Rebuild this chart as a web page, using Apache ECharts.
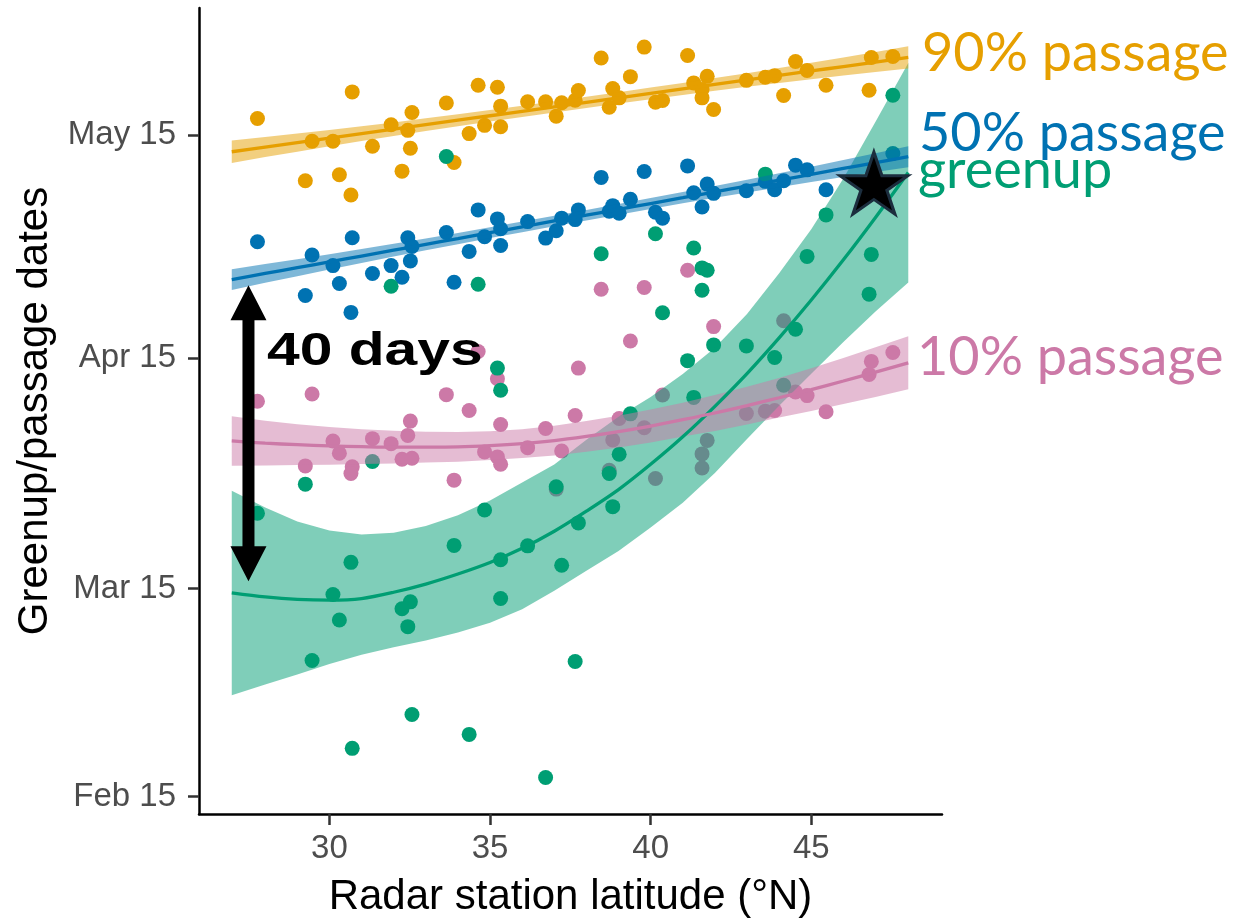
<!DOCTYPE html>
<html>
<head>
<meta charset="utf-8">
<script src="https://cdn.jsdelivr.net/npm/echarts/dist/echarts.min.js"></script>
<style>
  html, body { margin: 0; padding: 0; background: #fff; }
  #chart { width: 1233px; height: 923px; }
</style>
</head>
<body>
<div id="chart"></div>
<script>
// colours (Okabe-Ito)
const ORANGE = "#E69F00";
const BLUE = "#0072B2";
const GREEN = "#009E73";
const PINK = "#CC79A7";

// axis ticks
const xTicks = [30, 35, 40, 45];
const yTickDays = [46, 74, 105, 135];
const yTickLabels = ["Feb 15", "Mar 15", "Apr 15", "May 15"];

// station points: [latitude, day of year]
const pts90 = [
  [27.76, 137.21], [30.71, 140.78], [33.64, 139.28], [32.57, 138.01], [31.92, 136.37],
  [32.44, 135.61], [29.46, 134.14], [30.11, 134.14], [31.34, 133.47], [32.52, 133.2],
  [33.88, 131.29], [29.25, 128.83], [30.31, 129.63], [32.26, 130.12], [30.67, 126.91],
  [34.63, 141.67], [35.23, 141.4], [35.33, 138.86], [34.35, 135.17], [34.83, 136.28],
  [35.33, 136.1], [36.17, 139.45], [36.73, 139.45], [37.06, 137.52], [37.23, 139.31],
  [37.65, 139.66], [37.75, 140.96], [38.46, 145.33], [38.71, 138.72], [38.82, 141.22],
  [39.02, 139.98], [39.37, 142.83], [39.8, 146.8], [40.15, 139.39], [40.37, 139.62],
  [41.15, 145.68], [41.34, 141.99], [41.76, 142.87], [41.6, 141.09], [41.6, 139.98],
  [41.96, 138.42], [42.98, 142.33], [43.57, 142.74], [43.86, 142.96], [44.14, 140.29],
  [44.51, 144.87], [44.87, 143.67], [45.46, 141.67], [46.8, 141.0], [46.87, 145.41],
  [47.54, 145.54]
];
const pts50 = [
  [27.76, 120.63], [30.71, 121.16], [33.64, 121.87], [32.44, 121.16], [32.57, 120.0],
  [29.46, 118.85], [30.11, 117.42], [31.92, 117.42], [32.52, 118.05], [31.34, 116.35],
  [32.26, 115.85], [30.31, 115.01], [29.25, 113.41], [30.67, 111.13], [33.88, 115.18],
  [34.35, 119.33], [34.63, 124.91], [34.83, 121.3], [35.23, 123.7], [35.33, 122.37],
  [35.33, 120.13], [36.17, 123.34], [36.73, 121.12], [37.06, 122.1], [37.23, 123.8],
  [37.65, 123.61], [37.75, 124.91], [38.46, 129.28], [38.71, 124.73], [38.82, 125.48],
  [39.02, 124.47], [39.37, 126.34], [39.8, 130.08], [40.15, 124.6], [40.37, 123.8],
  [41.15, 130.83], [41.34, 127.22], [41.76, 128.38], [41.96, 127.14], [41.6, 125.31],
  [42.98, 127.49], [43.57, 128.75], [43.86, 127.62], [44.14, 128.83], [44.51, 130.93],
  [44.87, 130.3], [45.46, 127.62], [47.54, 132.49]
];
const pts10 = [
  [27.76, 99.19], [29.46, 100.16], [33.64, 100.07], [32.52, 96.51], [32.44, 94.59],
  [30.11, 93.84], [31.34, 94.15], [31.92, 93.48], [30.31, 92.18], [32.26, 91.38],
  [32.57, 91.51], [29.25, 90.49], [30.71, 90.36], [30.67, 89.47], [33.88, 88.57],
  [34.35, 97.93], [34.63, 105.88], [35.23, 102.21], [35.33, 96.06], [36.73, 95.52],
  [37.65, 97.26], [37.75, 103.64], [39.02, 96.86], [34.83, 92.37], [35.23, 91.7],
  [35.33, 90.71], [36.17, 92.94], [37.23, 92.5], [38.46, 114.25], [39.8, 114.48],
  [39.37, 107.29], [41.15, 116.79], [41.96, 109.22], [47.54, 105.74], [46.87, 104.54],
  [46.8, 102.77], [44.51, 100.43], [44.87, 99.94], [45.46, 97.76], [44.14, 110.0],
  [38.82, 93.97], [39.8, 95.62], [40.37, 100.03], [40.15, 88.8], [41.76, 93.92],
  [41.6, 92.1], [41.6, 90.2], [38.71, 89.91], [42.98, 97.53], [43.57, 97.85],
  [43.86, 97.93], [37.06, 87.37]
];
const ptsGreen = [
  [33.64, 132.09], [31.92, 114.65], [34.63, 114.92], [38.46, 119.02], [40.15, 121.7],
  [40.37, 111.09], [41.34, 119.78], [41.6, 117.11], [41.76, 116.79], [41.6, 114.11],
  [41.15, 104.64], [35.23, 103.64], [35.33, 100.66], [39.37, 97.49], [43.57, 129.72],
  [47.54, 140.33], [45.46, 124.24], [44.87, 118.66], [46.87, 118.93], [46.8, 113.58],
  [44.51, 108.86], [41.96, 106.76], [42.98, 106.62], [43.86, 105.07], [44.14, 101.33],
  [41.34, 99.7], [31.34, 91.07], [29.25, 88.03], [27.76, 84.12], [30.67, 77.52],
  [33.88, 79.8], [30.11, 73.19], [32.52, 72.21], [32.26, 71.28], [30.31, 69.76],
  [32.44, 68.87], [29.46, 64.32], [32.57, 57.06], [30.71, 52.51], [39.02, 92.05],
  [38.71, 89.47], [38.82, 85.01], [37.75, 82.82], [34.83, 84.56], [36.17, 79.74],
  [35.33, 77.87], [37.23, 77.12], [37.06, 87.69], [35.33, 72.65], [37.65, 64.19],
  [34.35, 54.38], [36.73, 48.58]
];

// fitted curves and 95% bands, read at these latitudes
const fitLat = [26.96, 28, 29, 30, 31, 32, 33, 34, 35, 36, 37, 38, 39, 40, 41, 42, 43, 44, 45, 46, 47, 48.02];

const fit90 = [132.73, 133.36, 133.96, 134.56, 135.16, 135.76, 136.37, 136.97, 137.57, 138.17, 138.77, 139.38, 139.98, 140.58, 141.18, 141.78, 142.38, 142.99, 143.59, 144.19, 144.79, 145.41];
const lo90 = [131.23, 132.01, 132.74, 133.46, 134.16, 134.84, 135.51, 136.16, 136.79, 137.41, 138.02, 138.63, 139.22, 139.8, 140.37, 140.92, 141.46, 141.99, 142.49, 142.97, 143.44, 143.91];
const hi90 = [134.23, 134.71, 135.18, 135.66, 136.16, 136.68, 137.23, 137.78, 138.35, 138.93, 139.52, 140.13, 140.74, 141.36, 141.99, 142.64, 143.3, 143.99, 144.69, 145.41, 146.14, 146.91];

const fit50 = [115.54, 116.36, 117.14, 117.92, 118.71, 119.49, 120.28, 121.06, 121.85, 122.63, 123.42, 124.2, 124.98, 125.77, 126.55, 127.34, 128.12, 128.91, 129.69, 130.48, 131.26, 132.06];
const lo50 = [114.14, 115.1, 116.0, 116.89, 117.77, 118.63, 119.48, 120.3, 121.12, 121.92, 122.72, 123.5, 124.27, 125.04, 125.79, 126.54, 127.26, 127.97, 128.66, 129.34, 130.0, 130.66];
const hi50 = [116.94, 117.62, 118.28, 118.95, 119.65, 120.35, 121.08, 121.82, 122.58, 123.34, 124.12, 124.9, 125.69, 126.5, 127.31, 128.14, 128.98, 129.85, 130.72, 131.62, 132.52, 133.46];

const fit10 = [93.84, 93.54, 93.34, 93.17, 93.08, 93.01, 93.01, 93.04, 93.21, 93.48, 93.88, 94.45, 95.1, 95.85, 96.7, 97.6, 98.6, 99.65, 100.75, 101.9, 103.1, 104.35];
const lo10 = [90.5, 90.53, 90.6, 90.63, 90.74, 90.8, 90.94, 91.03, 91.27, 91.54, 91.87, 92.38, 92.96, 93.64, 94.43, 95.19, 96.06, 96.98, 97.87, 98.82, 99.76, 100.78];
const hi10 = [97.18, 96.55, 96.08, 95.71, 95.42, 95.22, 95.08, 95.05, 95.15, 95.42, 95.89, 96.52, 97.24, 98.06, 98.97, 100.01, 101.14, 102.32, 103.63, 104.98, 106.44, 107.92];

const fitGreen = [73.42, 72.88, 72.55, 72.44, 72.65, 73.5, 74.6, 75.95, 77.5, 79.4, 81.7, 84.4, 87.3, 90.7, 94.4, 98.5, 102.9, 107.7, 112.8, 118.2, 123.9, 129.95];
const loGreen = [59.64, 61.11, 62.45, 63.85, 65.1, 66.1, 67.0, 68.1, 69.4, 71.2, 73.7, 76.4, 79.05, 82.19, 85.53, 89.53, 94.09, 98.56, 102.87, 107.15, 111.24, 115.14];
const hiGreen = [87.15, 84.9, 83.0, 81.8, 81.25, 81.5, 82.4, 83.85, 85.85, 88.26, 90.67, 94.01, 97.09, 99.76, 102.84, 106.38, 110.9, 116.4, 122.3, 129.12, 136.75, 144.66];

// annotations
const starPoint = [46.95, 128.52];
const arrowLat = 27.48;
const arrowFrom = 74.98; // day
const arrowTo = 114.78;  // day

const FONT = "'Liberation Sans', Arial, sans-serif";

function scatter(name, data, color) {
  return {
    name: name,
    type: "scatter",
    data: data,
    symbolSize: 15,
    itemStyle: { color: color, opacity: 1 },
    z: 2,
    silent: true,
  };
}

function band(name, lo, hi, color) {
  return {
    name: name,
    type: "custom",
    data: [[fitLat[0], lo[0]]],
    encode: { x: 0, y: 1 },
    z: 3,
    silent: true,
    renderItem: function (params, api) {
      const points = [];
      for (let i = 0; i < fitLat.length; i++) points.push(api.coord([fitLat[i], hi[i]]));
      for (let i = fitLat.length - 1; i >= 0; i--) points.push(api.coord([fitLat[i], lo[i]]));
      return {
        type: "polygon",
        shape: { points: points },
        style: { fill: color, opacity: 0.5 },
      };
    },
  };
}

function fitLine(name, fit, color) {
  return {
    name: name,
    type: "line",
    data: fitLat.map((x, i) => [x, fit[i]]),
    showSymbol: false,
    smooth: 0.3,
    lineStyle: { color: color, width: 3.3 },
    z: 4,
    silent: true,
  };
}

const arrowSeries = {
  name: "arrow",
  type: "custom",
  data: [[arrowLat, arrowFrom, arrowTo]],
  encode: { x: 0, y: 1 },
  z: 6,
  silent: true,
  renderItem: function (params, api) {
    const top = api.coord([api.value(0), api.value(2)]);
    const bot = api.coord([api.value(0), api.value(1)]);
    const x = top[0];
    const hw = 18, hl = 35, sw = 6;
    return {
      type: "polygon",
      shape: {
        points: [
          [x, top[1]], [x + hw, top[1] + hl], [x + sw, top[1] + hl],
          [x + sw, bot[1] - hl], [x + hw, bot[1] - hl], [x, bot[1]],
          [x - hw, bot[1] - hl], [x - sw, bot[1] - hl], [x - sw, top[1] + hl],
          [x - hw, top[1] + hl],
        ],
      },
      style: { fill: "#000" },
    };
  },
};

const starPath = "path://M50,0L61.23,34.55L97.55,34.55L68.17,55.9L79.39,90.45L50,69.1L20.61,90.45L31.83,55.9L2.45,34.55L38.77,34.55Z";

const chart = echarts.init(document.getElementById("chart"));
chart.setOption({
  animation: false,
  backgroundColor: "#fff",
  grid: { left: 199, right: 291, top: 8, bottom: 105, containLabel: false },
  xAxis: {
    type: "value",
    min: 25.94,
    max: 49.07,
    name: "Radar station latitude (°N)",
    nameLocation: "middle",
    nameGap: 62,
    nameTextStyle: { fontFamily: FONT, fontSize: 42, color: "#000", verticalAlign: "top" },
    axisLine: { lineStyle: { color: "#000", width: 2.5 } },
    axisTick: { show: true, length: 11, customValues: xTicks, lineStyle: { color: "#333", width: 2.5 } },
    axisLabel: { customValues: xTicks, fontFamily: FONT, fontSize: 33, color: "#4D4D4D", margin: 18 },
    splitLine: { show: false },
  },
  yAxis: {
    type: "value",
    min: 43.68,
    max: 152.06,
    name: "Greenup/passage dates",
    nameLocation: "middle",
    nameRotate: 90,
    nameGap: 143,
    nameTextStyle: { fontFamily: FONT, fontSize: 42, color: "#000" },
    axisLine: { show: true, lineStyle: { color: "#000", width: 2.5 } },
    axisTick: { show: true, length: 11, customValues: yTickDays, lineStyle: { color: "#333", width: 2.5 } },
    axisLabel: {
      customValues: yTickDays,
      fontFamily: FONT,
      fontSize: 33,
      color: "#4D4D4D",
      margin: 23,
      formatter: (v) => yTickLabels[yTickDays.indexOf(Math.round(v))] || "",
    },
    splitLine: { show: false },
  },
  series: [
    scatter("10% passage", pts10, PINK),
    scatter("50% passage", pts50, BLUE),
    scatter("90% passage", pts90, ORANGE),
    scatter("greenup", ptsGreen, GREEN),
    band("greenup band", loGreen, hiGreen, GREEN),
    band("10% band", lo10, hi10, PINK),
    band("50% band", lo50, hi50, BLUE),
    band("90% band", lo90, hi90, ORANGE),
    fitLine("greenup fit", fitGreen, GREEN),
    fitLine("10% fit", fit10, PINK),
    fitLine("50% fit", fit50, BLUE),
    fitLine("90% fit", fit90, ORANGE),
    arrowSeries,
    {
      name: "star",
      type: "scatter",
      data: [starPoint],
      symbol: starPath,
      symbolSize: [68, 62],
      itemStyle: { color: "#000", opacity: 1, borderColor: "#1c2e3e", borderWidth: 3 },
      z: 7,
      silent: true,
    },
  ],
  graphic: [
    { type: "text", x: 922, y: 54, z: 10, style: { text: "90% passage", fontFamily: "Lato", fontSize: 54, fill: ORANGE, align: "left", verticalAlign: "middle" } },
    { type: "text", x: 919, y: 134, z: 10, style: { text: "50% passage", fontFamily: "Lato", fontSize: 54, fill: BLUE, align: "left", verticalAlign: "middle" } },
    { type: "text", x: 918, y: 170.6, z: 10, style: { text: "greenup", fontFamily: "Lato", fontSize: 54, fill: GREEN, align: "left", verticalAlign: "middle" } },
    { type: "text", x: 917, y: 357.3, z: 10, style: { text: "10% passage", fontFamily: "Lato", fontSize: 54, fill: PINK, align: "left", verticalAlign: "middle" } },
    { type: "text", x: 267, y: 352.4, scaleX: 1.25, z: 10, style: { text: "40 days", fontFamily: FONT, fontWeight: "bold", fontSize: 47, fill: "#000", align: "left", verticalAlign: "middle" } },
  ],
});
</script>
</body>
</html>
